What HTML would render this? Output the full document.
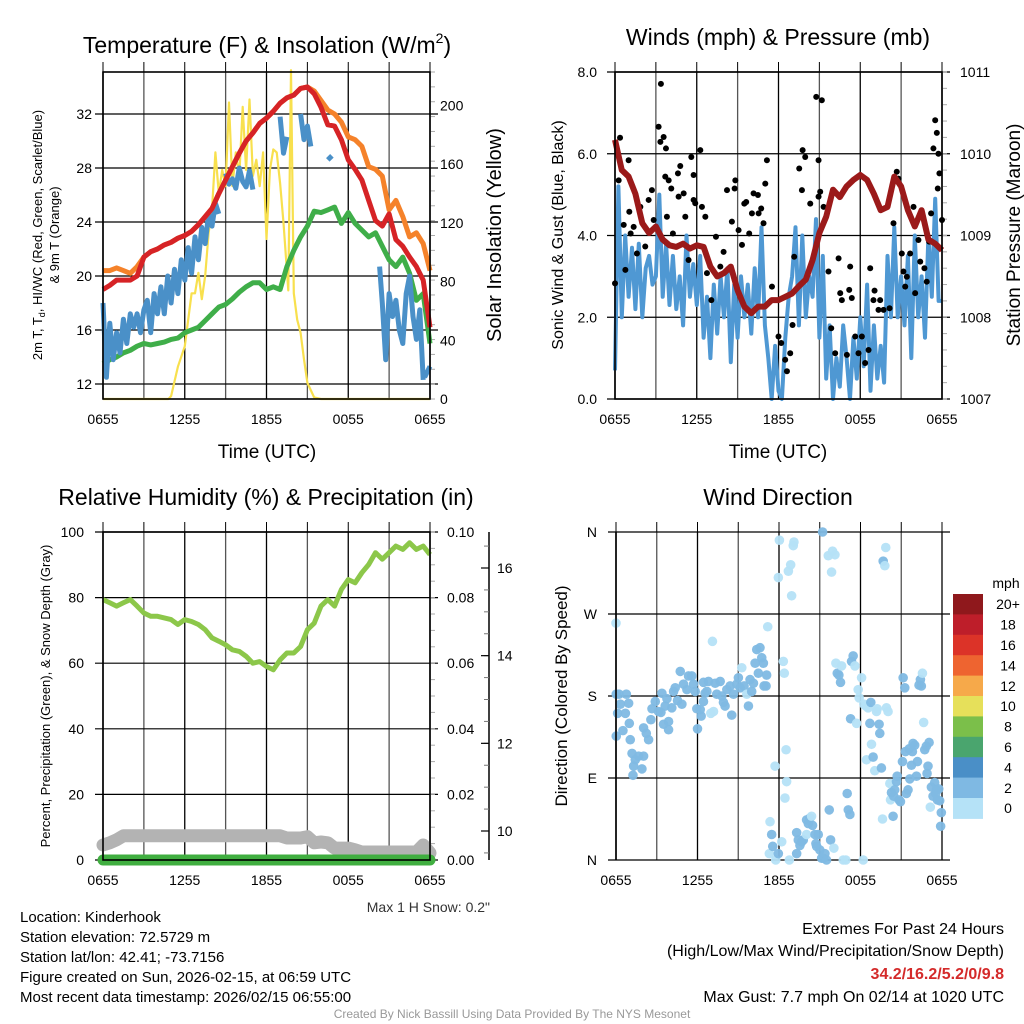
<!DOCTYPE html>
<html><head><meta charset="utf-8">
<style>
html,body{margin:0;padding:0;background:#fff;}
svg{display:block;font-family:"Liberation Sans",sans-serif;}
</style></head>
<body>
<svg id="fig" width="1024" height="1024" viewBox="0 0 1024 1024" xmlns="http://www.w3.org/2000/svg">
<rect x="0" y="0" width="1024" height="1024" fill="#fff"/>
<text x="267" y="53" font-size="23" text-anchor="middle">Temperature (F) &amp; Insolation (W/m<tspan font-size="14" dy="-10">2</tspan><tspan dy="10">)</tspan></text>
<text x="778" y="45" font-size="23" text-anchor="middle">Winds (mph) &amp; Pressure (mb)</text>
<text x="266" y="505" font-size="23" text-anchor="middle">Relative Humidity (%) &amp; Precipitation (in)</text>
<text x="778" y="505" font-size="23" text-anchor="middle">Wind Direction</text>

<text x="267" y="458" font-size="19" text-anchor="middle">Time (UTC)</text>
<text x="778" y="458" font-size="19" text-anchor="middle">Time (UTC)</text>
<text transform="translate(42,235) rotate(-90)" font-size="13" text-anchor="middle">2m T, T<tspan font-size="9" dy="3">d</tspan><tspan dy="-3">, HI/WC (Red, Green, Scarlet/Blue)</tspan></text>
<text transform="translate(59,235) rotate(-90)" font-size="13" text-anchor="middle">&amp; 9m T (Orange)</text>
<text transform="translate(501,235) rotate(-90)" font-size="20" text-anchor="middle">Solar Insolation (Yellow)</text>
<text transform="translate(563,235) rotate(-90)" font-size="16" text-anchor="middle">Sonic Wind &amp; Gust (Blue, Black)</text>
<text transform="translate(1020,235) rotate(-90)" font-size="19" text-anchor="middle">Station Pressure (Maroon)</text>
<text transform="translate(50,696) rotate(-90)" font-size="13" text-anchor="middle">Percent, Precipitation (Green), &amp; Snow Depth (Gray)</text>
<text transform="translate(567,696) rotate(-90)" font-size="17" text-anchor="middle">Direction (Colored By Speed)</text>
<text x="490" y="912" font-size="14" fill="#333" text-anchor="end">Max 1 H Snow: 0.2"</text>

<g font-size="15">
<text x="20" y="922">Location: Kinderhook</text>
<text x="20" y="942">Station elevation: 72.5729 m</text>
<text x="20" y="962">Station lat/lon: 42.41; -73.7156</text>
<text x="20" y="982">Figure created on Sun, 2026-02-15, at 06:59 UTC</text>
<text x="20" y="1002">Most recent data timestamp: 2026/02/15 06:55:00</text>
</g>
<g font-size="16" text-anchor="end">
<text x="1004" y="934">Extremes For Past 24 Hours</text>
<text x="1004" y="956">(High/Low/Max Wind/Precipitation/Snow Depth)</text>
<text x="1004" y="979" fill="#d42a2a" font-weight="bold">34.2/16.2/5.2/0/9.8</text>
<text x="1004" y="1002">Max Gust: 7.7 mph On 02/14 at 1020 UTC</text>
</g>
<text x="512" y="1018" font-size="12" fill="#999" text-anchor="middle">Created By Nick Bassill Using Data Provided By The NYS Mesonet</text>

<g id="p1"></g>
<g id="p2"></g>
<g id="p3"></g>
<g id="p4"></g>
<g id="cb"></g>
</svg>
<script>
const timeTickHours = [0, 6, 12, 18, 24];
const timeTickLabels = ["0655", "1255", "1855", "0055", "0655"];
const tempTicks = [12, 16, 20, 24, 28, 32];
const insolTicks = [0, 40, 80, 120, 160, 200];
const windTicks = [0, 2, 4, 6, 8];
const windTickLabels = ["0.0", "2.0", "4.0", "6.0", "8.0"];
const presTicks = [1007, 1008, 1009, 1010, 1011];
const rhTicks = [0, 20, 40, 60, 80, 100];
const precipTickLabels = ["0.00", "0.02", "0.04", "0.06", "0.08", "0.10"];
const snowTicks = [10, 12, 14, 16];
const dirTicks = [0, 90, 180, 270, 360];
const dirTickLabels = ["N", "E", "S", "W", "N"];
const speedBins = ["0", "2", "4", "6", "8", "10", "12", "14", "16", "18", "20+"];
const speedColors = ["#b5e2f7", "#7fb9e3", "#4a8fc7", "#4aa56e", "#7bbf4a", "#e6e05a", "#f6a94a", "#ee6430", "#dc3328", "#be1e2a", "#8f181c"];

const temp2m = [19.0,19.3,19.7,19.7,19.7,20.0,21.4,21.8,22.0,22.3,22.5,22.8,23.0,23.3,23.8,24.4,25.0,26.1,27.1,28.1,29.1,30.0,30.6,31.3,31.7,32.2,32.8,33.2,33.4,33.9,34.0,33.5,32.5,31.2,31.1,30.1,28.6,27.9,27.1,25.6,24.1,23.7,24.6,22.7,22.2,21.4,20.7,19.7,16.2];
const temp9m = [20.4,20.4,20.6,20.4,20.2,20.7,21.4,21.8,22.0,22.3,22.5,22.8,23.0,23.3,23.8,24.4,25.0,26.1,27.1,28.1,29.1,30.0,30.6,31.3,31.7,32.2,32.8,33.2,33.4,33.9,34.0,33.7,33.0,32.3,32.0,31.4,30.3,30.1,29.6,28.1,27.9,27.4,24.9,25.6,24.4,22.9,23.2,22.4,20.4];
const dewpoint = [13.5,13.8,14.0,14.3,14.5,14.8,15.0,14.9,15.0,15.1,15.3,15.4,15.8,16.0,16.2,16.7,17.2,17.7,17.9,18.3,18.8,19.2,19.5,19.5,19.0,19.2,19.0,20.7,21.9,22.9,23.7,24.8,24.7,24.9,25.1,23.9,24.7,23.9,23.4,22.9,23.2,22.2,21.2,20.7,21.4,20.2,18.2,18.7,15.0];
const windChill = [[0,18.0],[0.25,12.5],[0.5,16.5],[0.75,13.8],[1,15.8],[1.25,14.3],[1.5,16.8],[1.75,15.0],[2,17.2],[2.25,16.2],[2.5,17.2],[2.75,15.8],[3,17.5],[3.25,18.2],[3.5,15.8],[3.75,18.7],[4,17.2],[4.25,19.2],[4.5,17.2],[4.75,20.0],[5,18.0],[5.25,20.5],[5.5,18.7],[5.75,21.2],[6,19.7],[6.25,22.1],[6.5,20.2],[6.75,22.9],[7,21.2],[7.25,23.6],[7.5,22.4],[7.75,24.6],[8,23.7],[8.25,25.4],[8.5,24.6],null,[9,27.6],[9.25,26.8],[9.5,27.2],[9.75,26.5],[10,28.0],[10.25,27.0],[10.5,26.6],[10.75,27.8],[11,26.4],null,[13,31.8],[13.25,29.1],[13.5,30.3],null,[14.5,32.0],[14.75,30.1],[15,31.1],[15.25,29.6],null,[16.5,28.6],[16.8,28.9],null,[20.3,20.7],[20.5,18.0],[20.75,13.8],[21,18.7],[21.25,17.0],[21.5,18.2],[21.75,16.0],[22,15.0],[22.25,18.7],[22.5,20.0],[22.75,17.0],[23,15.3],[23.25,17.5],[23.5,12.3],null,[23.6,12.5],[24,13.3]];
const insolation = [[0,0],[4.8,0],[5,2],[5.5,22],[6,36],[6.25,54],[6.5,72],[6.75,72],[7,86],[7.25,68],[7.5,84],[7.75,113],[8,129],[8.25,168],[8.5,140],[8.75,156],[9,145],[9.25,202],[9.5,145],[9.75,168],[10,152],[10.25,199],[10.5,156],[10.75,204],[11,152],[11.25,163],[11.5,145],[11.75,168],[12,109],[12.25,156],[12.5,170],[12.75,168],[13,147],[13.25,120],[13.6,74],[13.8,224],[14,72],[14.25,54],[14.5,45],[14.75,27],[15,11],[15.5,1],[16,0],[24,0]];

const windSpeed = [0.7,5.2,2.0,4.0,2.5,3.7,2.2,3.8,2.0,3.2,3.5,2.8,3.0,5.0,2.5,3.8,2.3,3.5,2.2,3.0,1.8,4.0,2.5,3.3,2.3,3.5,1.5,2.5,1.0,2.8,1.6,3.0,2.0,3.2,0.9,2.8,1.5,3.0,2.0,2.8,1.6,3.2,2.0,4.2,1.8,1.0,0.0,1.3,0.2,0.0,1.5,2.5,3.0,4.2,1.8,4.0,2.0,3.0,2.5,4.4,1.5,3.5,0.5,1.8,0.0,1.0,0.3,1.8,1.0,0.0,1.5,0.5,2.0,0.8,2.8,0.2,1.8,0.5,1.3,0.4,3.5,2.0,4.2,2.0,3.0,1.8,3.5,1.0,4.0,2.0,3.0,1.5,4.0,2.5,4.9,2.4,2.4];
const pressure = [1010.17,1009.8,1009.72,1009.51,1009.15,1009.03,1009.11,1008.95,1008.88,1008.86,1008.9,1008.84,1008.88,1008.86,1008.62,1008.5,1008.54,1008.62,1008.33,1008.13,1008.05,1008.13,1008.13,1008.21,1008.21,1008.25,1008.29,1008.38,1008.46,1008.7,1009.03,1009.23,1009.56,1009.47,1009.6,1009.68,1009.74,1009.68,1009.51,1009.31,1009.35,1009.72,1009.6,1009.31,1009.11,1009.31,1008.95,1008.9,1008.82];
const gusts = [[0,2.83],[0.37,6.39],[0.27,5.35],[0.64,4.26],[0.76,3.16],[1.0,5.84],[1.05,4.58],[1.15,4.05],[1.37,4.21],[1.61,3.56],[1.86,4.70],[2.22,3.73],[2.47,4.87],[2.71,5.11],[2.84,4.38],[3.2,6.66],[3.33,6.29],[3.37,7.71],[3.57,6.41],[3.74,6.13],[3.69,5.44],[3.94,5.35],[3.81,4.46],[4.13,5.15],[4.25,4.05],[4.62,5.52],[4.79,5.70],[4.67,4.95],[5.04,5.03],[5.16,4.46],[5.40,3.40],[5.6,5.92],[5.77,5.48],[5.77,4.87],[5.89,4.79],[6.26,6.09],[6.38,4.70],[6.63,4.46],[6.75,3.08],[7.07,2.42],[7.41,3.97],[7.73,3.24],[7.97,3.60],[8.22,5.11],[8.58,4.34],[8.78,5.15],[8.83,5.35],[9.07,4.13],[9.32,3.77],[9.49,4.78],[9.63,4.82],[9.85,4.05],[10.05,4.54],[10.17,5.03],[10.49,4.99],[10.54,4.54],[10.73,4.66],[10.9,4.30],[11.03,5.27],[11.15,5.84],[11.52,2.75],[12.0,1.53],[12.2,1.37],[12.49,0.96],[12.62,0.68],[12.86,1.12],[13.03,1.81],[13.15,3.48],[13.52,5.64],[13.77,6.09],[13.96,5.92],[13.72,5.11],[14.33,4.78],[14.77,7.39],[15.18,7.31],[14.94,5.84],[14.94,4.95],[15.06,5.07],[15.31,4.70],[15.67,3.12],[15.87,1.73],[16.16,1.12],[16.41,3.44],[16.53,2.59],[16.65,2.42],[17.02,1.08],[17.19,2.67],[17.38,2.47],[17.26,3.24],[17.63,1.53],[17.87,1.12],[18.12,1.53],[18.36,0.88],[18.61,1.20],[18.73,3.20],[18.97,2.42],[19.05,2.65],[19.34,2.18],[19.46,2.42],[19.71,2.18],[20.15,2.22],[20.44,4.30],[20.68,5.56],[20.8,5.39],[21.05,3.56],[21.17,3.12],[21.42,2.99],[21.3,2.75],[21.66,3.56],[21.91,4.70],[22.03,2.59],[22.27,3.89],[22.4,3.36],[22.71,3.20],[22.88,2.87],[23.06,3.85],[23.2,4.54],[23.37,6.13],[23.5,6.82],[23.62,6.51],[23.74,6.0],[23.81,5.52],[23.69,5.15],[24,4.38]];

const relHumidity = [79.4,78.4,77.4,78.4,79.4,77.4,75.3,74.3,74.3,73.8,73.3,71.8,73.3,72.7,71.8,70.2,67.7,66.7,65.6,64.1,63.6,62.1,60.0,60.5,59.0,58.0,61.0,63.1,63.1,65.1,70.2,72.2,77.4,79.4,77.4,82.5,85.5,84.5,87.6,90.1,93.7,91.7,93.7,95.7,94.7,96.7,94.7,95.7,93.1];
const snowDepth = [9.68,9.73,9.8,9.89,9.89,9.89,9.89,9.89,9.89,9.89,9.89,9.89,9.89,9.89,9.89,9.89,9.89,9.89,9.89,9.89,9.89,9.89,9.89,9.89,9.89,9.89,9.89,9.84,9.84,9.84,9.87,9.73,9.75,9.73,9.61,9.61,9.61,9.57,9.52,9.52,9.52,9.52,9.52,9.52,9.52,9.52,9.52,9.68,9.5];
const precip = [0,0,0,0,0,0,0,0,0,0,0,0,0,0,0,0,0,0,0,0,0,0,0,0,0,0,0,0,0,0,0,0,0,0,0,0,0,0,0,0,0,0,0,0,0,0,0,0,0];

const windDirObs = [[0,260,1],[0.02,182,3],[0.22,182,3],[0.32,171,3],[0.12,161,2],[0.69,161,2],[0.76,182,2],[0.93,172,2],[0.98,150,3],[0.51,142,2],[0.02,136,2],[1.05,132,2],[1.18,117,2],[1.42,110,2],[1.30,103,2],[1.25,93,2],[1.91,100,3],[1.67,114,2],[2.03,114,2],[2.03,145,2],[2.23,139,2],[2.40,132,3],[2.57,154,2],[2.65,166,3],[2.89,174,2],[3.13,163,3],[3.31,162,3],[3.38,183,2],[3.50,149,3],[3.87,152,2],[3.87,143,2],[3.62,169,2],[4.11,167,2],[4.24,185,2],[4.36,189,2],[3.75,177,3],[4.53,175,2],[4.73,207,2],[4.85,171,3],[4.97,193,2],[5.22,187,2],[5.34,202,2],[5.58,202,3],[5.71,193,3],[5.83,185,2],[5.95,166,2],[6.0,144,3],[6.27,158,3],[6.20,165,2],[6.44,174,2],[6.56,183,2],[6.44,195,2],[6.69,185,2],[6.81,196,2],[6.98,161,1],[7.18,163,1],[7.10,240,1],[7.30,194,2],[7.42,182,2],[7.67,196,2],[7.79,180,2],[7.91,173,2],[8.03,169,2],[8.16,187,2],[8.40,191,2],[8.52,159,2],[8.65,182,2],[8.89,193,2],[9.01,200,2],[9.14,189,2],[9.26,211,1],[9.43,191,3],[9.63,182,1],[9.75,169,2],[9.87,198,2],[9.99,185,2],[10.12,194,2],[10.24,216,2],[10.36,231,2],[10.48,205,2],[10.60,233,2],[10.73,222,2],[10.85,216,2],[10.90,191,2],[11.05,191,3],[11.09,203,3],[11.17,256,1],[11.29,7,1],[11.34,42,1],[11.46,28,2],[11.54,15,2],[11.71,103,1],[11.76,0,1],[11.95,310,1],[12.03,351,1],[11.95,7,2],[12.20,20,1],[12.32,218,1],[12.39,205,1],[12.52,121,1],[12.56,86,1],[12.44,68,1],[12.69,317,1],[12.76,0,1],[12.86,324,1],[12.93,290,1],[13.05,345,1],[13.10,349,1],[13.30,7,2],[13.30,30,3],[13.42,22,2],[13.54,16,3],[13.67,20,3],[13.79,22,3],[14.03,28,1],[14.03,44,2],[14.16,40,2],[14.28,46,2],[14.40,48,1],[14.47,38,2],[14.65,28,3],[14.72,18,3],[14.77,15,3],[14.89,28,3],[15.01,11,2],[15.14,2,3],[15.21,360,3],[15.26,2,3],[15.38,7,2],[15.50,0,2],[15.63,334,1],[15.70,55,3],[15.80,22,3],[15.87,316,1],[15.94,339,1],[16.04,13,1],[16.12,335,1],[16.19,216,1],[16.29,205,2],[16.41,203,2],[16.53,195,2],[16.61,213,1],[16.73,0,1],[16.92,0,1],[17.02,73,3],[17.10,55,2],[17.22,50,2],[17.27,155,3],[17.34,218,2],[17.46,224,2],[17.59,213,1],[17.71,150,1],[17.83,187,1],[17.90,178,1],[18.08,200,1],[18.20,0,1],[18.25,171,1],[18.39,169,1],[18.44,110,1],[18.56,167,1],[18.69,150,2],[18.76,173,3],[18.81,127,1],[18.93,113,2],[19.05,98,1],[19.18,163,1],[19.23,166,1],[19.37,149,2],[19.42,139,2],[19.54,101,3],[19.62,45,1],[19.67,328,3],[19.79,323,1],[19.86,343,1],[19.91,167,1],[20.03,163,1],[20.16,84,1],[20.21,66,1],[20.28,74,2],[20.40,48,3],[20.45,70,3],[20.52,77,3],[20.65,86,3],[20.70,92,3],[20.84,66,3],[20.94,64,3],[21.09,108,3],[21.14,200,3],[21.26,189,2],[21.31,119,2],[21.38,73,2],[21.50,77,2],[21.58,122,2],[21.63,89,2],[21.75,104,3],[21.82,119,3],[21.87,128,2],[21.99,126,2],[22.12,92,2],[22.19,108,2],[22.31,192,2],[22.41,198,2],[22.48,191,2],[22.56,205,1],[22.65,151,1],[22.73,121,2],[22.85,125,2],[22.90,95,2],[22.97,103,2],[23.05,129,2],[23.14,58,1],[23.22,80,2],[23.34,70,2],[23.46,85,3],[23.54,73,3],[23.59,77,2],[23.66,66,3],[23.76,78,3],[23.83,65,3],[23.95,52,2],[23.90,37,2]];

const NS = "http://www.w3.org/2000/svg";
function mk(parent, tag, attrs) {
  const e = document.createElementNS(NS, tag);
  for (const k in attrs) e.setAttribute(k, attrs[k]);
  parent.appendChild(e);
  return e;
}
function lin(d0, d1, r0, r1) { return v => r0 + (v - d0) * (r1 - r0) / (d1 - d0); }
function pathFrom(pts) {
  let d = "", pen = false;
  for (const p of pts) {
    if (p === null) { pen = false; continue; }
    d += (pen ? "L" : "M") + p[0].toFixed(1) + "," + p[1].toFixed(1);
    pen = true;
  }
  return d;
}
function frame(g, X0, X1, Y0, Y1, xs) {
  for (let h = 0; h <= 24; h += 3) {
    const l = mk(g, "line", {x1: xs(h), x2: xs(h), y1: Y0, y2: Y1, stroke: (h % 6 === 0) ? "#000" : "#555", "stroke-width": 1.3});
    
    
    const tk = mk(g, "line", {x1: xs(h), x2: xs(h), y1: Y0 - 10, y2: Y0, stroke: "#000", "stroke-width": 1});
    
    
  }
  timeTickHours.forEach((h, i) => {
    const t = mk(g, "text", {x: xs(h), y: Y1 + 25, "font-size": 14, "text-anchor": "middle"});
    t.textContent = timeTickLabels[i];
    
    
  });
}
function hgrid(g, X0, X1, y, lab, lx, anchor) {
  const l = mk(g, "line", {x1: X0 - 8, x2: X1 + 8, y1: y, y2: y, stroke: "#000", "stroke-width": 1.2});
  
  
  if (lab !== null) {
    const t = mk(g, "text", {x: lx, y: y + 5, "font-size": 14, "text-anchor": anchor});
    t.textContent = lab;
    
    
  }
}
function rtext(g, x, y, s) {
  const t = mk(g, "text", {x: x, y: y + 5, "font-size": 14, "text-anchor": "start"});
  t.textContent = s;
  
  
}
function minorTicks(g, x, y0, y1, n) {
  for (let i = 0; i <= n; i++) {
    const y = y0 + (y1 - y0) * i / n;
    const m = mk(g, "line", {x1: x, x2: x + 5, y1: y, y2: y, stroke: "#aaa", "stroke-width": 1});
    
    
  }
}
function border(g, X0, X1, Y0, Y1) {
  const b = mk(g, "rect", {x: X0, y: Y0, width: X1 - X0, height: Y1 - Y0, fill: "none", stroke: "#000", "stroke-width": 1.6});
  
  
}

(function () {
  const g = document.getElementById("p1");
  const X0 = 103, X1 = 430, Y0 = 72, Y1 = 399;
  const xs = lin(0, 24, X0, X1), ty = lin(12, 32, 384, 114), iy = lin(0, 200, 399, 105.4);
  frame(g, X0, X1, Y0, Y1, xs);
  tempTicks.forEach(v => hgrid(g, X0, X1, ty(v), String(v), 92, "end"));
  insolTicks.forEach(v => rtext(g, 440, iy(v), String(v)));
  minorTicks(g, X1, Y0, Y1, 22);
  const half = arr => arr.map((v, i) => [xs(i * 0.5), ty(v)]);
  const ins = mk(g, "path", {d: pathFrom(insolation.map(p => [xs(p[0]), iy(p[1])])), fill: "none", stroke: "#f8e04e", "stroke-width": 2.2, "stroke-linejoin": "round"});
  
  
  const dp = mk(g, "path", {d: pathFrom(half(dewpoint)), fill: "none", stroke: "#3fae49", "stroke-width": 5, "stroke-linejoin": "round"});
  
  
  const wc = mk(g, "path", {d: pathFrom(windChill.map(p => p === null ? null : [xs(p[0]), ty(p[1])])), fill: "none", stroke: "#4a90c8", "stroke-width": 5, "stroke-linejoin": "round"});
  
  
  const o = mk(g, "path", {d: pathFrom(half(temp9m)), fill: "none", stroke: "#f5822a", "stroke-width": 5, "stroke-linejoin": "round"});
  
  
  const r = mk(g, "path", {d: pathFrom(half(temp2m)), fill: "none", stroke: "#d62326", "stroke-width": 5, "stroke-linejoin": "round"});
  
  
  border(g, X0, X1, Y0, Y1);
})();

(function () {
  const g = document.getElementById("p2");
  const X0 = 615, X1 = 942, Y0 = 72, Y1 = 399;
  const xs = lin(0, 24, X0, X1), wy = lin(0, 8, Y1, Y0), py = lin(1007, 1011, Y1, Y0);
  frame(g, X0, X1, Y0, Y1, xs);
  windTicks.forEach((v, i) => hgrid(g, X0, X1, wy(v), windTickLabels[i], 597, "end"));
  presTicks.forEach(v => rtext(g, 960, py(v), String(v)));
  minorTicks(g, X1, Y0, Y1, 20);
  const w = mk(g, "path", {d: pathFrom(windSpeed.map((v, i) => [xs(i * 0.25), wy(v)])), fill: "none", stroke: "#4f98d3", "stroke-width": 4, "stroke-linejoin": "round"});
  
  
  gusts.forEach(p => {
    const c = mk(g, "circle", {cx: xs(p[0]), cy: wy(p[1]), r: 3, fill: "#000"});
    
    
  });
  const pr = mk(g, "path", {d: pathFrom(pressure.map((v, i) => [xs(i * 0.5), py(v)])), fill: "none", stroke: "#9b1a1a", "stroke-width": 6, "stroke-linejoin": "round"});
  
  
  border(g, X0, X1, Y0, Y1);
})();

(function () {
  const g = document.getElementById("p3");
  const X0 = 103, X1 = 430, Y0 = 532, Y1 = 860;
  const xs = lin(0, 24, X0, X1), ry = lin(0, 100, Y1, Y0), sy = lin(10, 16, 831, 568), qy = lin(0, 0.1, Y1, Y0);
  frame(g, X0, X1, Y0, Y1, xs);
  rhTicks.forEach((v, i) => { hgrid(g, X0, X1, ry(v), String(v), 84, "end"); rtext(g, 447, ry(v), precipTickLabels[i]); });
  minorTicks(g, X1, Y0, Y1, 20);
  const ax = mk(g, "line", {x1: 489, x2: 489, y1: Y0, y2: Y1, stroke: "#000", "stroke-width": 1.5});
  
  
  for (let s = 9.5; s <= 16.6; s += 0.5) {
    const yy = sy(s);
    if (yy < Y0 || yy > Y1) continue;
    const m = mk(g, "line", {x1: 489, x2: 484, y1: yy, y2: yy, stroke: "#777", "stroke-width": 1});
    
    
  }
  snowTicks.forEach(v => {
    const m = mk(g, "line", {x1: 489, x2: 481, y1: sy(v), y2: sy(v), stroke: "#000", "stroke-width": 1.2});
    
    
    rtext(g, 497, sy(v), String(v));
  });
  const sd = mk(g, "path", {d: pathFrom(snowDepth.map((v, i) => [xs(i * 0.5), sy(v)])), fill: "none", stroke: "#b3b3b3", "stroke-width": 13, "stroke-linejoin": "round", "stroke-linecap": "round"});
  
  
  const pc = mk(g, "path", {d: pathFrom(precip.map((v, i) => [xs(i * 0.5), qy(v)])), fill: "none", stroke: "#40ae40", "stroke-width": 11, "stroke-linecap": "round"});
  
  
  const rh = mk(g, "path", {d: pathFrom(relHumidity.map((v, i) => [xs(i * 0.5), ry(v)])), fill: "none", stroke: "#8cc74a", "stroke-width": 5, "stroke-linejoin": "round"});
  
  
  border(g, X0, X1, Y0, Y1);
})();

(function () {
  const g = document.getElementById("p4");
  const X0 = 616, X1 = 942, Y0 = 532, Y1 = 860;
  const xs = lin(0, 24, X0, X1), dy = lin(0, 360, Y1, Y0);
  frame(g, X0, X1, Y0, Y1, xs);
  dirTicks.forEach((v, i) => hgrid(g, X0, X1, dy(v), dirTickLabels[i], 597, "end"));
  windDirObs.forEach(p => {
    const bin = Math.min(10, Math.max(0, Math.floor(p[2] / 2)));
    const c = mk(g, "circle", {cx: xs(p[0]), cy: dy(p[1]), r: 4.8, fill: speedColors[bin], "fill-opacity": 0.95});
    
    
  });
  const b = mk(g, "line", {x1: X0, x2: X0, y1: Y0, y2: Y1, stroke: "#000", "stroke-width": 1.6});
  
  
})();

(function () {
  const g = document.getElementById("cb");
  const top = 594, h = 20.4;
  const t = mk(g, "text", {x: 1006, y: 588, "font-size": 14, "text-anchor": "middle"});
  t.textContent = "mph";
  
  
  speedBins.forEach((lab, i) => {
    const k = speedBins.length - 1 - i;
    const y = top + h * i;
    const r = mk(g, "rect", {x: 953, y: y, width: 30, height: h + 0.5, fill: speedColors[k]});
    
    
    const l = mk(g, "text", {x: 1008, y: y + h / 2 + 5, "font-size": 14, "text-anchor": "middle"});
    l.textContent = speedBins[k];
    
    
  });
})();
</script>
</body></html>
